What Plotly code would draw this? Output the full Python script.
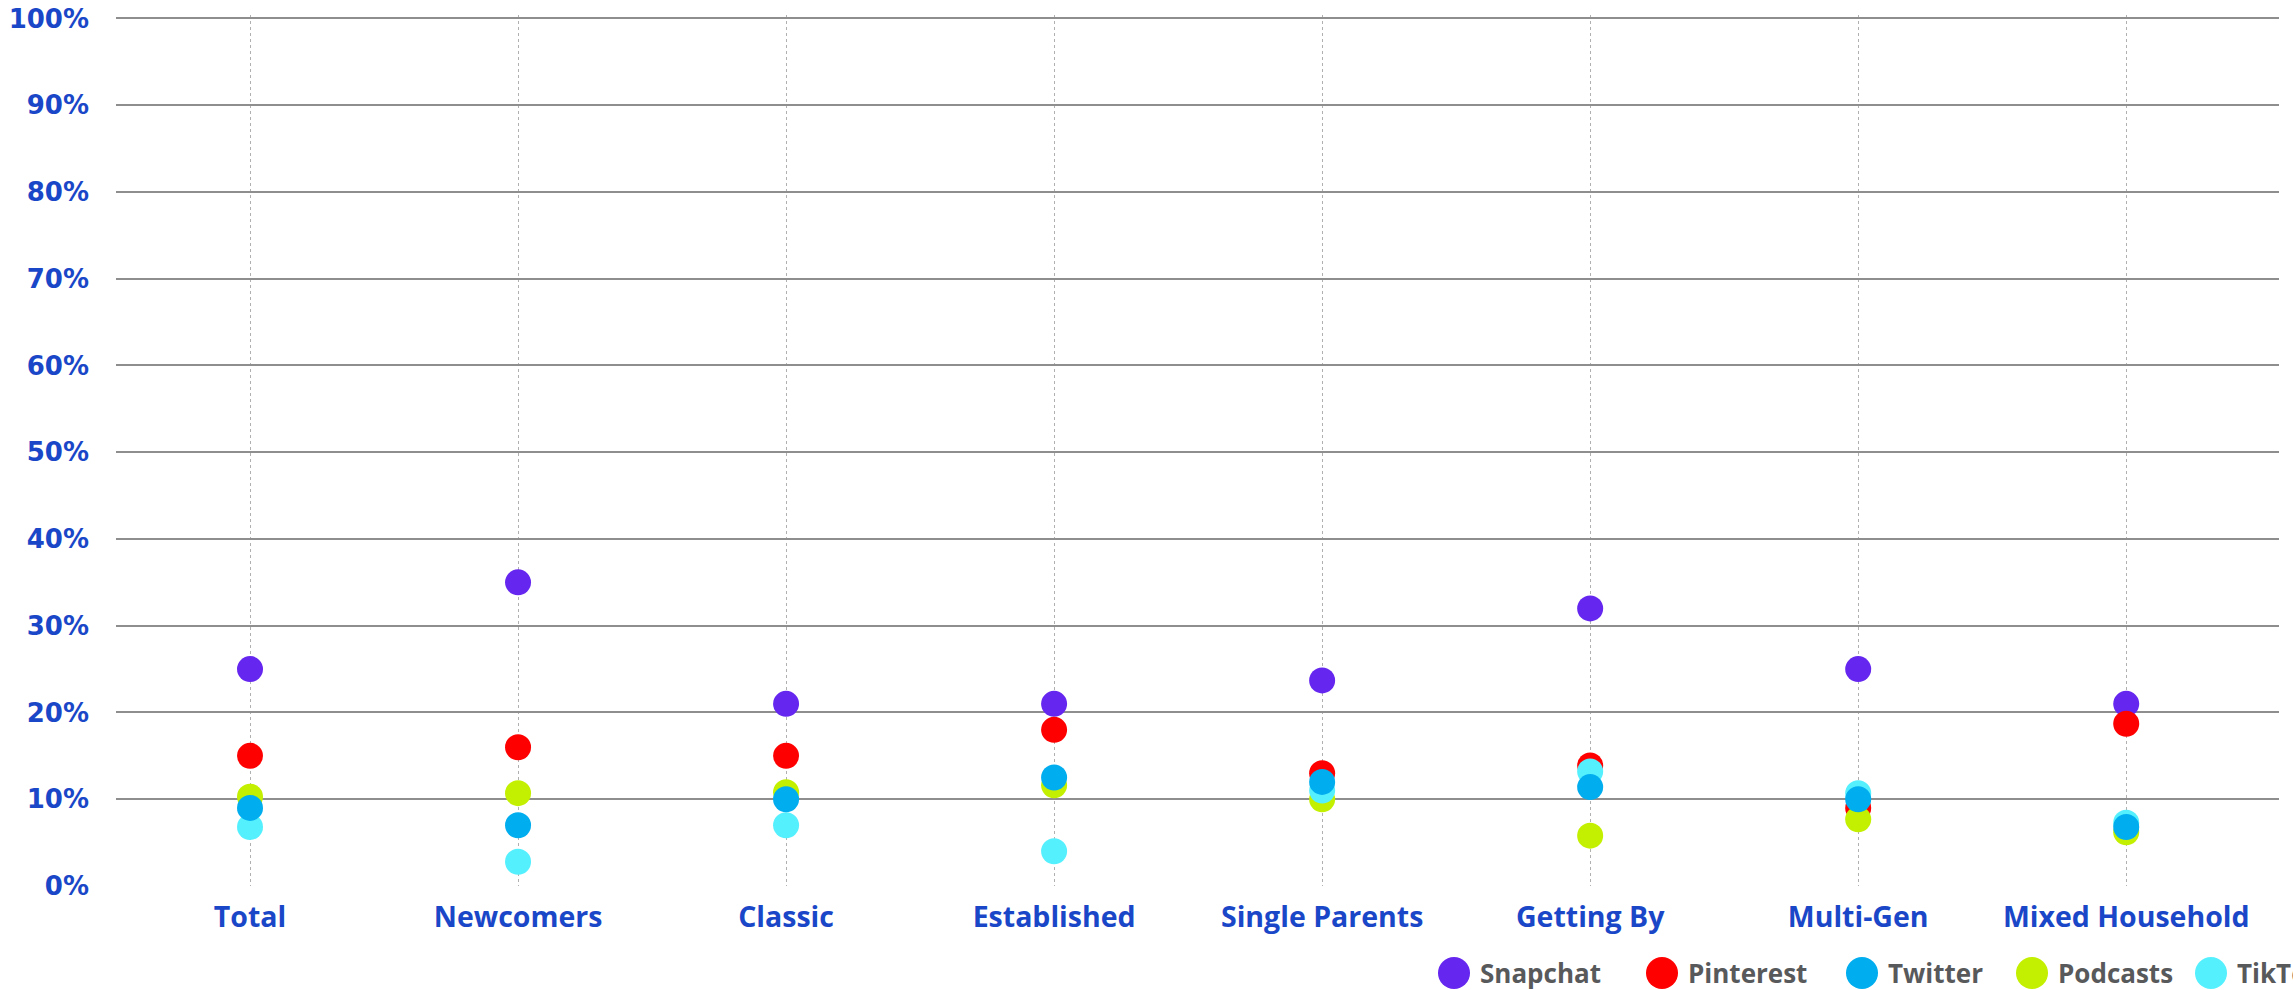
import plotly.graph_objects as go

# Household segments on the x axis
categories = ["Total", "Newcomers", "Classic", "Established", "Single Parents",
              "Getting By", "Multi-Gen", "Mixed Household"]

# Share of each segment using the platform (%)
snapchat = [25, 35, 21, 21, 23.7, 32, 25, 21]
pinterest = [15, 16, 15, 18, 13, 13.9, 9, 18.7]
twitter = [9, 7, 10, 12.5, 12, 11.4, 10, 6.8]
podcasts = [10.3, 10.7, 10.8, 11.6, 10, 5.8, 7.7, 6.2]
tiktok = [6.8, 2.8, 7, 4, 11, 13.2, 10.7, 7.3]

series_names = ["Snapchat", "Pinterest", "Twitter", "Podcasts", "TikTok"]
series_values = [snapchat, pinterest, twitter, podcasts, tiktok]
series_colors = ["#6526ef", "#ff0000", "#00adee", "#c3f000", "#55f0fe"]

# Stacking order of the dots (first drawn sits underneath)
draw_order = ["Snapchat", "Pinterest", "Podcasts", "TikTok", "Twitter"]

y_ticks = list(range(0, 101, 10))
y_tick_labels = [f"{v}%" for v in y_ticks]
Y_MAX = 100.4  # a little headroom so the 100% gridline is kept

W, H = 2293, 990
M_L, M_R, M_T, M_B = 116, 14, 15, 104
plot_w = W - M_L - M_R
plot_h = H - M_T - M_B

FONT = "Open Sans"
TICK_FONT = "DejaVu Sans"
BLUE = "#1a47c8"
GREY_TEXT = "#58595b"

fig = go.Figure()
for name in draw_order:
    i = series_names.index(name)
    fig.add_trace(go.Scatter(
        x=categories,
        y=series_values[i],
        mode="markers",
        name=name,
        marker=dict(size=26, color=series_colors[i], line=dict(width=0)),
        cliponaxis=False,
        showlegend=False,
    ))

# Legend row below the plot: dot + label for each series
legend_centers_px = [1454, 1662, 1862, 2032, 2211]
legend_y_px = 973
ly = (H - M_B - legend_y_px) / plot_h
for name, color, cx in zip(series_names, series_colors, legend_centers_px):
    px = (cx - M_L) / plot_w
    fig.add_shape(type="circle", xref="paper", yref="paper",
                  xsizemode="pixel", ysizemode="pixel",
                  xanchor=px, yanchor=ly,
                  x0=-16, x1=16, y0=-16, y1=16,
                  fillcolor=color, line=dict(width=0))
    fig.add_annotation(text=name, xref="paper", yref="paper",
                       x=(cx + 24 - M_L) / plot_w, y=ly,
                       xanchor="left", yanchor="middle", showarrow=False,
                       font=dict(family=FONT, size=26, color=GREY_TEXT, weight="bold"))

fig.update_layout(
    width=W, height=H,
    margin=dict(l=M_L, r=M_R, t=M_T, b=M_B, pad=0, autoexpand=False),
    paper_bgcolor="white",
    plot_bgcolor="white",
    showlegend=False,
)
fig.update_xaxes(
    type="category",
    range=[-0.5, 7.57],
    automargin=False,
    showgrid=True, gridcolor="#b0b0b0", gridwidth=1, griddash="dot",
    showline=False, zeroline=False, ticks="",
    tickfont=dict(family=FONT, size=28.5, color=BLUE, weight="bold"),
    ticklabelstandoff=11,
)
fig.update_yaxes(
    range=[0, Y_MAX],
    automargin=False,
    tickvals=y_ticks, ticktext=y_tick_labels,
    showgrid=True, gridcolor="#8e8e8e", gridwidth=2,
    zeroline=False, showline=False, ticks="",
    tickfont=dict(family=TICK_FONT, size=26, color=BLUE, weight="bold"),
    ticklabelstandoff=26,
)

fig.write_html("out.html")
